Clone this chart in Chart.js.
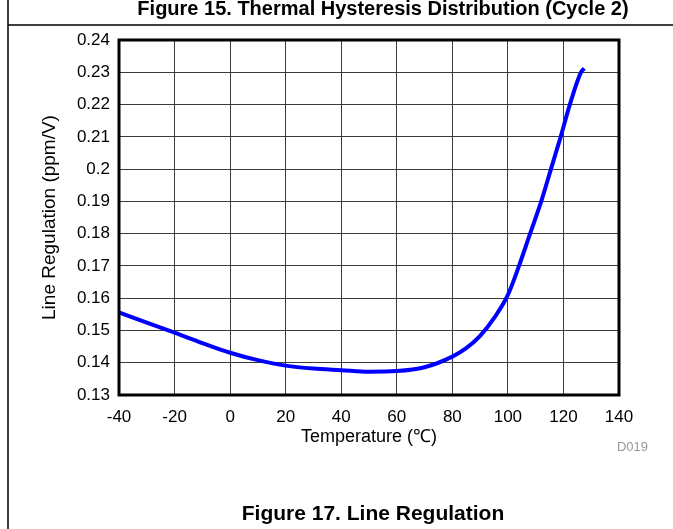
<!DOCTYPE html>
<html>
<head>
<meta charset="utf-8">
<script src="https://cdn.jsdelivr.net/npm/chart.js@4/dist/chart.umd.min.js"></script>
<style>
html,body{margin:0;padding:0;background:#fff;}
canvas{display:block;}
</style>
</head>
<body>
<canvas id="c" width="673" height="529"></canvas>
<script>
// ---- data ----
const temperatures = [-40, -30, -20, -10, 0, 10, 20, 30, 40, 50, 60, 70, 80, 85, 90, 95, 100, 104, 108, 112, 115.5, 119, 122.3, 126.3, 127.5];
const lineRegulation = [0.1556, 0.1524, 0.1493, 0.1461, 0.1431, 0.1408, 0.1391, 0.1382, 0.1377, 0.1372, 0.1374, 0.1386, 0.1419, 0.1445, 0.1483, 0.1538, 0.1610, 0.1700, 0.1800, 0.1900, 0.2000, 0.2100, 0.2200, 0.2300, 0.2312];
const xTicks = [-40, -20, 0, 20, 40, 60, 80, 100, 120, 140];
const yTicks = [0.13, 0.14, 0.15, 0.16, 0.17, 0.18, 0.19, 0.2, 0.21, 0.22, 0.23, 0.24];
const topCaption = 'Figure 15. Thermal Hysteresis Distribution (Cycle 2)';
const bottomCaption = 'Figure 17. Line Regulation';
const graphId = 'D019';
const xTitle = 'Temperature (\u2103)';
const yTitle = 'Line Regulation (ppm/V)';

const FONT = "'Liberation Sans', Arial, sans-serif";
Chart.defaults.font.family = FONT;
Chart.defaults.color = '#000';

const points = temperatures.map((t, i) => ({x: t, y: lineRegulation[i]}));

const decor = {
  id: 'decor',
  beforeDraw(chart) {
    const ctx = chart.ctx;
    ctx.save();
    ctx.fillStyle = '#fff';
    ctx.fillRect(0, 0, chart.width, chart.height);
    ctx.restore();
  },
  afterDraw(chart) {
    const ctx = chart.ctx;
    const a = chart.chartArea;
    ctx.save();
    // page frame
    ctx.strokeStyle = '#000';
    ctx.lineWidth = 1.5;
    ctx.beginPath();
    ctx.moveTo(8, 0); ctx.lineTo(8, chart.height);
    ctx.moveTo(8, 25); ctx.lineTo(chart.width, 25);
    ctx.stroke();
    // plot border
    ctx.lineWidth = 3;
    ctx.strokeRect(a.left, a.top, a.right - a.left, a.bottom - a.top);
    // captions
    ctx.fillStyle = '#000';
    ctx.textAlign = 'center';
    ctx.textBaseline = 'alphabetic';
    ctx.font = 'bold 20px ' + FONT;
    ctx.fillText(topCaption, 383, 15);
    ctx.font = 'bold 21px ' + FONT;
    ctx.fillText(bottomCaption, 373, 520);
    // graph id
    ctx.fillStyle = '#999';
    ctx.font = '13px ' + FONT;
    ctx.textAlign = 'right';
    ctx.textBaseline = 'middle';
    ctx.fillText(graphId, 648, 447);
    ctx.restore();
  }
};

new Chart(document.getElementById('c'), {
  type: 'line',
  data: {
    datasets: [{
      data: points,
      borderColor: '#0000ff',
      borderWidth: 4,
      pointRadius: 0,
      fill: false,
      cubicInterpolationMode: 'monotone'
    }]
  },
  options: {
    responsive: false,
    animation: false,
    devicePixelRatio: 1,
    layout: {padding: {left: 0, top: 40, right: 54, bottom: 0}},
    plugins: {legend: {display: false}, tooltip: {enabled: false}, title: {display: false}},
    scales: {
      x: {
        type: 'linear',
        min: -40, max: 140,
        afterBuildTicks(s) { s.ticks = xTicks.map(v => ({value: v})); },
        afterFit(s) { s.height = 134; },
        grid: {color: '#3a3a3a', lineWidth: 1, drawTicks: false},
        border: {display: false},
        ticks: {font: {size: 17}, padding: 12, maxRotation: 0, autoSkip: false, callback: v => String(v)},
        title: {display: true, text: xTitle, font: {size: 18}, padding: {top: 0, bottom: 81}}
      },
      y: {
        type: 'linear',
        min: 0.13, max: 0.24,
        afterBuildTicks(s) { s.ticks = yTicks.map(v => ({value: v})); },
        afterFit(s) { s.width = 119; },
        grid: {color: '#3a3a3a', lineWidth: 1, drawTicks: false},
        border: {display: false},
        ticks: {font: {size: 17}, padding: 9, autoSkip: false, callback: v => String(Number(v.toFixed(2)))},
        title: {display: true, text: yTitle, font: {size: 19}, padding: {top: 38, bottom: 0}}
      }
    }
  },
  plugins: [decor]
});
</script>
</body>
</html>
